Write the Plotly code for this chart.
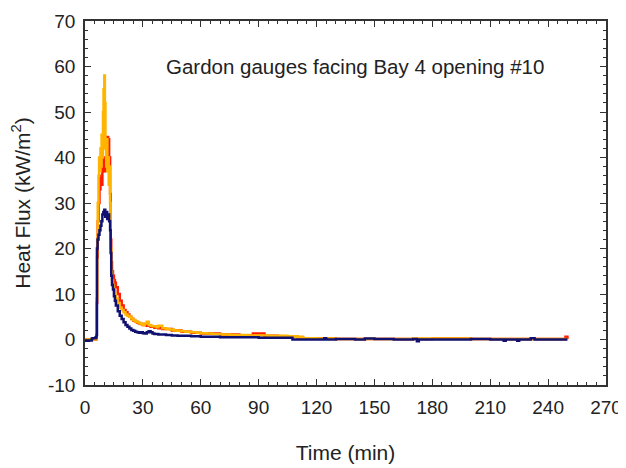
import plotly.graph_objects as go

# ---- data ----
t_blue = [0, 1, 2, 3, 3.5, 4, 5, 5.5, 6, 6.2, 6.5, 7, 7.5, 8, 8.5, 9, 9.5, 10, 10.5, 11, 11.5, 12, 12.5, 13,
          13.3, 13.6, 14, 14.5, 15, 15.5, 16, 17, 18, 19, 20, 21, 22, 23, 24, 25, 26, 27, 28, 29, 30, 31, 32,
          33, 34, 35, 36, 38, 40, 42, 45, 48, 50, 55, 60, 65, 70, 75, 80, 90, 100, 107, 107.5, 120, 124, 125,
          130, 140, 145, 150, 160, 170, 172, 173, 180, 190, 200, 210, 217, 218, 220, 224, 225, 230, 231, 233,
          240, 250]
v_blue = [-0.3, -0.3, -0.2, -0.2, 0.2, 0.3, 0.3, 0.5, 1.0, 20, 22, 23, 24, 25, 26, 27.5, 28, 28.5, 27, 28, 26.5,
          27.5, 26, 24, 19, 14, 12, 11, 9.5, 8.5, 7.5, 6.2, 5.2, 4.5, 3.8, 3.2, 2.8, 2.4, 2.1, 1.9, 1.7, 1.6, 1.5,
          1.6, 1.4, 1.3, 1.6, 1.8, 1.6, 1.3, 1.2, 1.1, 1.1, 1.0, 0.9, 0.8, 0.8, 0.7, 0.6, 0.6, 0.5, 0.5, 0.5, 0.4,
          0.4, 0.4, 0.0, 0.0, 0.3, 0.0, 0.1, 0.0, 0.2, 0.1, 0.0, 0.1, -0.4, 0.0, 0.0, 0.0, 0.1, 0.0, -0.3, 0.0,
          0.0, -0.3, 0.0, 0.0, 0.3, 0.0, 0.0, 0.0]

t_orange = [0, 3, 5.8, 6, 6.3, 6.6, 7, 7.3, 7.6, 8, 8.3, 8.6, 9, 9.3, 9.6, 10, 10.3, 10.6, 11, 11.3, 11.6, 12,
            12.3, 12.6, 13, 13.3, 13.6, 14, 14.5, 15, 15.5, 16, 17, 18, 19, 20, 21, 22, 23, 24, 25, 26, 27, 28,
            29, 30, 31, 32, 33, 34, 35, 37, 38, 40, 42, 44, 46, 48, 50, 52, 55, 58, 60, 63, 66, 70, 75, 80, 85,
            90, 95, 100, 105, 110, 113, 120, 130, 150, 170, 200, 250]
v_orange = [0, 0, 0.5, 9, 22, 30, 36, 40, 37, 42, 38, 45, 40, 50, 55, 58, 52, 42, 38, 44, 37, 40, 34, 38, 30,
            20, 15, 13, 12, 11, 10, 9, 8, 7, 6.5, 6, 5.5, 5.2, 5, 4.6, 4.3, 4, 3.8, 3.6, 3.4, 3.2, 3.5, 3.9, 3.2,
            3.0, 2.9, 2.7, 3.0, 2.5, 2.3, 2.2, 2.0, 1.9, 1.8, 1.7, 1.6, 1.5, 1.4, 1.3, 1.2, 1.1, 1.0, 1.0, 0.9,
            0.9, 0.8, 0.8, 0.7, 0.6, 0.3, 0.2, 0.1, 0.1, 0.2, 0.1, 0.1]

t_red = [0, 5.8, 6, 6.3, 6.6, 7, 7.5, 8, 8.5, 9, 9.5, 10, 10.5, 11, 11.5, 12, 12.5, 13, 13.3, 13.6, 14, 14.5, 15,
         15.5, 16, 17, 18, 19, 20, 21, 22, 23, 24, 25, 26, 27, 28, 29, 30, 32, 34, 36, 38, 40, 45, 50, 55, 60,
         70, 80, 86, 87, 92, 93, 100, 110, 113, 130, 180, 200, 248, 249, 250]
v_red = [0, 0.3, 8, 18, 26, 30, 33, 36, 34, 38, 40, 37, 39, 42, 44.5, 44, 40, 32, 22, 17, 15, 14, 13, 12.5, 11.5,
         10, 8.5, 7.5, 6.5, 6, 5.5, 5, 4.5, 4.2, 4, 3.7, 3.5, 3.4, 3.2, 3.0, 2.8, 2.6, 2.5, 2.3, 2.0, 1.7, 1.5,
         1.3, 1.1, 0.9, 0.9, 1.3, 1.3, 0.8, 0.7, 0.5, 0.2, 0.1, 0.2, 0.1, 0.1, 0.6, 0.1]

x_ticks = [0, 30, 60, 90, 120, 150, 180, 210, 240, 270]
y_ticks = [-10, 0, 10, 20, 30, 40, 50, 60, 70]
title_text = "Gardon gauges facing Bay 4 opening #10"

FONT = "Liberation Sans, Arial, sans-serif"
TXT = "#222222"

fig = go.Figure()
fig.add_trace(go.Scatter(x=t_red, y=v_red, mode="lines", line=dict(color="#FF1A00", width=2.5),
                         line_shape="hv", showlegend=False))
fig.add_trace(go.Scatter(x=t_orange, y=v_orange, mode="lines", line=dict(color="#FFB400", width=2.5),
                         line_shape="hv", showlegend=False))
fig.add_trace(go.Scatter(x=t_blue, y=v_blue, mode="lines", line=dict(color="#101070", width=2.5),
                         line_shape="hv", showlegend=False))

axis_common = dict(
    showgrid=False, zeroline=False, showline=True, linecolor="#333333", linewidth=1.5,
    mirror="allticks", ticks="inside", ticklen=6, tickwidth=1.2, tickcolor="#333333",
    tickfont=dict(family=FONT, size=19, color=TXT), automargin=False,
)

fig.update_xaxes(range=[0, 270], tickvals=x_ticks, ticktext=[str(v) for v in x_ticks],
                 minor=dict(dtick=5, ticks="inside", ticklen=3, tickcolor="#333333", tickwidth=1),
                 title=dict(text="Time (min)", font=dict(family=FONT, size=21, color=TXT), standoff=29),
                 ticklabelstandoff=4, **axis_common)
fig.update_yaxes(range=[-10, 70], tickvals=y_ticks, ticktext=[str(v) for v in y_ticks],
                 minor=dict(dtick=2, ticks="inside", ticklen=3, tickcolor="#333333", tickwidth=1),
                 title=dict(text="Heat Flux (kW/m<sup>2</sup>)", font=dict(family=FONT, size=21, color=TXT),
                            standoff=18),
                 ticklabelstandoff=4, **axis_common)

fig.add_annotation(text=title_text, x=0.518, y=0.875, xref="paper", yref="paper", showarrow=False,
                   font=dict(family=FONT, size=20.5, color=TXT), xanchor="center", yanchor="middle")

# page body adds an 8px margin, so the figure is drawn 8px in from the top-left
fig.update_layout(width=618, height=460, margin=dict(l=77, r=20, t=13, b=83),
                  paper_bgcolor="white", plot_bgcolor="white")

fig.write_html("out.html")
